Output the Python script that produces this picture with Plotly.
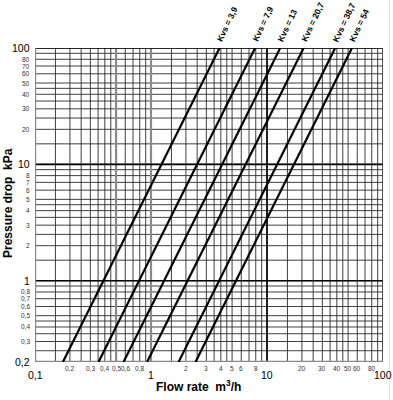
import math
import plotly.graph_objects as go

# ---------------- data ----------------
kvs_labels = ["Kvs = 3,9", "Kvs = 7,9", "Kvs = 13", "Kvs = 20,7", "Kvs = 38,7", "Kvs = 54"]
flow_at_dp_min = [0.174, 0.353, 0.58, 0.925, 1.73, 2.42]   # m3/h where each line meets 0.2 kPa
flow_at_dp_max = [3.9, 7.9, 13.0, 20.7, 38.7, 54.0]       # m3/h where each line meets 100 kPa
dp_min = 0.2
dp_max = 100

grid_steps = [1, 1.5, 2, 2.5, 3, 3.5, 4, 4.5, 5, 6, 7, 8, 9]
x_decades = [0.1, 1, 10]
y_decades = [0.1, 1, 10]

x_big_labels = [0.1, 1, 10, 100]
x_big_text = ["0,1", "1", "10", "100"]
x_small_labels = [0.2, 0.3, 0.4, 0.5, 0.6, 0.8, 2, 3, 4, 5, 6, 8, 20, 30, 40, 50, 60, 80]
x_small_text = ["0,2", "0,3", "0,4", "0,5", "0,6", "0,8", "2", "3", "4", "5", "6", "8",
                "20", "30", "40", "50", "60", "80"]
y_big_labels = [0.2, 1, 10, 100]
y_big_text = ["0,2", "1", "10", "100"]
y_small_labels = [0.3, 0.4, 0.5, 0.6, 0.7, 0.8, 2, 3, 4, 5, 6, 7, 8, 20, 30, 40, 50, 60, 70, 80]
y_small_text = ["0,3", "0,4", "0,5", "0,6", "0,7", "0,8", "2", "3", "4", "5", "6", "7", "8",
                "20", "30", "40", "50", "60", "70", "80"]

X_MIN, X_MAX = 0.1, 100
FONT = "Liberation Sans, Arial, sans-serif"

xs_grid = [round(d * s, 6) for d in x_decades for s in grid_steps] + [100]
ys_grid = [round(d * s, 6) for d in y_decades for s in grid_steps if d * s >= dp_min - 1e-9] + [100]

fig = go.Figure()

def vlines(vals, color, width):
    xx, yy = [], []
    for v in vals:
        xx += [v, v, None]
        yy += [dp_min, dp_max, None]
    fig.add_trace(go.Scatter(x=xx, y=yy, mode="lines", line=dict(color=color, width=width),
                             hoverinfo="skip", showlegend=False))

def hlines(vals, color, width):
    xx, yy = [], []
    for v in vals:
        xx += [X_MIN, X_MAX, None]
        yy += [v, v, None]
    fig.add_trace(go.Scatter(x=xx, y=yy, mode="lines", line=dict(color=color, width=width),
                             hoverinfo="skip", showlegend=False))

# fine grid
vlines(xs_grid, "#2a2a2a", 0.9)
hlines(ys_grid, "#2a2a2a", 0.9)
# emphasised lines
vlines([0.5, 1], "#8a8a8a", 2.2)
vlines([10], "#000000", 1.6)
hlines([1, 10], "#000000", 1.6)
hlines([dp_max], "#000000", 1.6)
vlines([X_MAX], "#333333", 1.4)
vlines([X_MIN], "#8a8a8a", 2.4)
hlines([dp_min], "#8a8a8a", 2.4)

# Kvs lines
for lab, q0, q1 in zip(kvs_labels, flow_at_dp_min, flow_at_dp_max):
    fig.add_trace(go.Scatter(x=[q0, q1], y=[dp_min, dp_max], mode="lines",
                             line=dict(color="#000000", width=2.2), name=lab,
                             showlegend=False))

ann = []
for lab, q1 in zip(kvs_labels, flow_at_dp_max):
    ann.append(dict(x=math.log10(q1), y=math.log10(dp_max), xref="x", yref="y",
                    text="<b>" + lab + "</b>", showarrow=False, textangle=-65,
                    xanchor="left", yanchor="bottom", xshift=-7, yshift=2,
                    font=dict(family=FONT, size=8.5, color="#000")))

for v, t in zip(x_big_labels, x_big_text):
    ann.append(dict(x=math.log10(v), y=0, xref="x", yref="paper", text=t, showarrow=False,
                    xanchor="center", yanchor="middle", yshift=-13,
                    font=dict(family=FONT, size=10.5, color="#000")))
for v, t in zip(x_small_labels, x_small_text):
    ann.append(dict(x=math.log10(v), y=0, xref="x", yref="paper", text=t, showarrow=False,
                    xanchor="center", yanchor="middle", yshift=-6,
                    font=dict(family=FONT, size=6.5, color="#333")))
for v, t in zip(y_big_labels, y_big_text):
    ann.append(dict(x=0, y=math.log10(v), xref="paper", yref="y", text=t, showarrow=False,
                    xanchor="right", yanchor="middle", xshift=-3,
                    font=dict(family=FONT, size=10.5, color="#000")))
for v, t in zip(y_small_labels, y_small_text):
    ann.append(dict(x=0, y=math.log10(v), xref="paper", yref="y", text=t, showarrow=False,
                    xanchor="right", yanchor="middle", xshift=-3,
                    font=dict(family=FONT, size=6.5, color="#333")))

# axis titles
ann.append(dict(x=(198.5 - 35) / 348, y=(362 - 386) / 314, xref="paper", yref="paper",
                text="<b>Flow rate  m<sup>3</sup>/h</b>", showarrow=False,
                xanchor="center", yanchor="middle",
                font=dict(family=FONT, size=12, color="#000")))
ann.append(dict(x=(8 - 35) / 348, y=(362 - 203) / 314, xref="paper", yref="paper",
                text="<b>Pressure drop  kPa</b>", showarrow=False, textangle=-90,
                xanchor="center", yanchor="middle",
                font=dict(family=FONT, size=12, color="#000")))

fig.update_layout(
    width=393, height=400,
    margin=dict(l=35, r=10, t=48, b=38),
    paper_bgcolor="white", plot_bgcolor="white",
    xaxis=dict(type="log", range=[math.log10(X_MIN), math.log10(X_MAX)], showgrid=False,
               zeroline=False, showticklabels=False, ticks="", showline=False, fixedrange=True),
    yaxis=dict(type="log", range=[math.log10(dp_min), math.log10(dp_max)], showgrid=False,
               zeroline=False, showticklabels=False, ticks="", showline=False, fixedrange=True),
    annotations=ann,
    shapes=[dict(type="line", xref="paper", yref="paper",
                 x0=(389.5 - 35) / 348, x1=(389.5 - 35) / 348,
                 y0=(362 - 400) / 314, y1=362 / 314,
                 line=dict(color="#f2ec8c", width=1))],
)

fig.write_html("out.html", config={"displayModeBar": False},
               post_script="document.body.style.margin='0px';document.body.style.padding='0px';")
